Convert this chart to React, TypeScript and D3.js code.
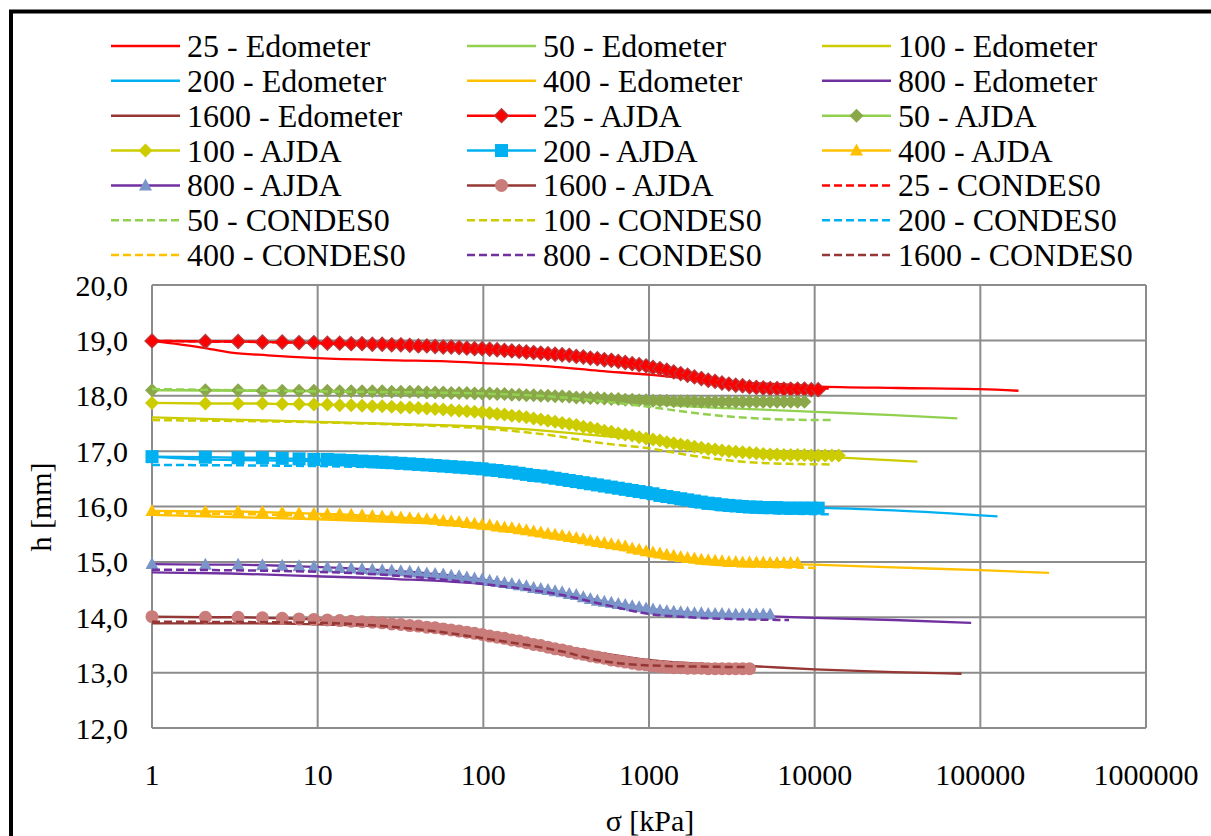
import React from "react";
import { scaleLog, scaleLinear, line, curveMonotoneX } from "d3";

// loading steps of the AJDA runs (shared by all seven series)
const ajdaStress = [
  1, 2.1, 3.31, 4.64, 6.11, 7.72, 9.49, 11.44, 13.58, 15.94,
  18.53, 21.38, 24.52, 27.98, 31.77, 35.95, 40.55, 45.6, 51.16, 57.28,
  64.0, 71.4, 79.54, 88.5, 98.35, 109.2, 121.1, 134.2, 148.6, 164.5,
  181.9, 201.1, 222.3, 245.5, 271.0, 299.1, 330.0, 364.0, 401.5, 442.6,
  487.9, 537.6, 592.4, 652.6, 718.9, 791.8, 872.0, 960.2, 1057, 1164,
  1281, 1410, 1553, 1709, 1881, 2070, 2278, 2506, 2758, 3035,
  3339, 3674, 4043, 4448, 4894, 5384, 5924, 6517, 7170, 7888,
  8677, 9547, 10502, 11553, 12709, 13981,
];

const ajda25 = [
  18.99, 18.98, 18.98, 18.97, 18.97, 18.96, 18.96, 18.95, 18.95, 18.94,
  18.94, 18.93, 18.93, 18.92, 18.92, 18.91, 18.90, 18.90, 18.89, 18.88,
  18.88, 18.87, 18.86, 18.85, 18.85, 18.84, 18.83, 18.82, 18.81, 18.80,
  18.79, 18.78, 18.77, 18.76, 18.75, 18.74, 18.73, 18.71, 18.70, 18.68,
  18.67, 18.65, 18.64, 18.62, 18.60, 18.58, 18.56, 18.54, 18.51, 18.49,
  18.46, 18.43, 18.40, 18.37, 18.34, 18.31, 18.28, 18.26, 18.23, 18.21,
  18.19, 18.18, 18.16, 18.15, 18.14, 18.13, 18.13, 18.12, 18.12, 18.12,
  18.12, 18.11, 18.11,
];
const ajda50 = [
  18.10, 18.10, 18.10, 18.09, 18.09, 18.09, 18.09, 18.09, 18.08, 18.08,
  18.08, 18.08, 18.08, 18.07, 18.07, 18.07, 18.07, 18.06, 18.06, 18.06,
  18.05, 18.05, 18.05, 18.04, 18.04, 18.04, 18.03, 18.03, 18.02, 18.02,
  18.01, 18.01, 18.00, 18.00, 17.99, 17.99, 17.98, 17.97, 17.97, 17.96,
  17.96, 17.95, 17.94, 17.94, 17.93, 17.93, 17.92, 17.92, 17.91, 17.91,
  17.91, 17.90, 17.90, 17.90, 17.90, 17.89, 17.89, 17.89, 17.89, 17.89,
  17.89, 17.89, 17.89, 17.89, 17.89, 17.89, 17.89, 17.89, 17.89, 17.89,
  17.89,
];
const ajda100 = [
  17.87, 17.86, 17.86, 17.86, 17.85, 17.85, 17.84, 17.84, 17.83, 17.83,
  17.82, 17.81, 17.81, 17.80, 17.79, 17.79, 17.78, 17.77, 17.76, 17.75,
  17.74, 17.73, 17.72, 17.71, 17.70, 17.69, 17.67, 17.66, 17.64, 17.63,
  17.61, 17.59, 17.57, 17.55, 17.53, 17.51, 17.49, 17.47, 17.44, 17.42,
  17.40, 17.37, 17.35, 17.32, 17.30, 17.28, 17.25, 17.23, 17.21, 17.19,
  17.16, 17.14, 17.12, 17.10, 17.08, 17.06, 17.04, 17.03, 17.01, 17.00,
  16.99, 16.98, 16.97, 16.96, 16.95, 16.94, 16.94, 16.93, 16.93, 16.93,
  16.93, 16.92, 16.92, 16.92, 16.92, 16.92,
];
const ajda200 = [
  16.90, 16.89, 16.88, 16.88, 16.87, 16.86, 16.85, 16.85, 16.84, 16.83,
  16.82, 16.81, 16.80, 16.79, 16.78, 16.77, 16.76, 16.75, 16.74, 16.73,
  16.72, 16.71, 16.70, 16.69, 16.68, 16.66, 16.65, 16.63, 16.62, 16.60,
  16.58, 16.56, 16.55, 16.53, 16.51, 16.49, 16.47, 16.45, 16.43, 16.41,
  16.39, 16.37, 16.35, 16.33, 16.31, 16.29, 16.27, 16.25, 16.23, 16.20,
  16.18, 16.16, 16.14, 16.12, 16.10, 16.08, 16.06, 16.05, 16.03, 16.02,
  16.01, 16.00, 15.99, 15.99, 15.98, 15.98, 15.98, 15.97, 15.97, 15.97,
  15.97, 15.97, 15.97,
];
const ajda400 = [
  15.92, 15.91, 15.91, 15.90, 15.89, 15.88, 15.87, 15.86, 15.86, 15.85,
  15.84, 15.83, 15.82, 15.81, 15.80, 15.79, 15.78, 15.77, 15.76, 15.74,
  15.73, 15.72, 15.70, 15.69, 15.67, 15.66, 15.64, 15.62, 15.61, 15.59,
  15.57, 15.55, 15.53, 15.51, 15.49, 15.47, 15.45, 15.43, 15.41, 15.38,
  15.36, 15.34, 15.32, 15.30, 15.28, 15.24, 15.22, 15.19, 15.17, 15.15,
  15.13, 15.11, 15.09, 15.07, 15.06, 15.04, 15.03, 15.02, 15.01, 15.00,
  15.00, 14.99, 14.99, 14.99, 14.99, 14.98, 14.98, 14.98, 14.98, 14.98,
];
const ajda800 = [
  14.96, 14.95, 14.95, 14.94, 14.93, 14.92, 14.91, 14.90, 14.89, 14.88,
  14.87, 14.86, 14.85, 14.84, 14.83, 14.82, 14.81, 14.79, 14.78, 14.77,
  14.75, 14.74, 14.72, 14.70, 14.68, 14.66, 14.64, 14.62, 14.60, 14.58,
  14.56, 14.53, 14.51, 14.49, 14.47, 14.45, 14.42, 14.40, 14.36, 14.33,
  14.30, 14.28, 14.26, 14.24, 14.22, 14.20, 14.18, 14.16, 14.14, 14.12,
  14.11, 14.10, 14.09, 14.08, 14.07, 14.07, 14.06, 14.06, 14.06, 14.05,
  14.05, 14.05, 14.05, 14.05, 14.05, 14.05,
];
const ajda1600 = [
  14.01, 14.00, 14.00, 13.99, 13.98, 13.97, 13.96, 13.95, 13.94, 13.93,
  13.92, 13.91, 13.90, 13.88, 13.87, 13.85, 13.84, 13.82, 13.81, 13.79,
  13.77, 13.75, 13.73, 13.71, 13.69, 13.66, 13.64, 13.62, 13.59, 13.57,
  13.54, 13.51, 13.49, 13.46, 13.43, 13.41, 13.38, 13.35, 13.33, 13.30,
  13.28, 13.26, 13.23, 13.21, 13.19, 13.17, 13.15, 13.14, 13.12, 13.11,
  13.10, 13.09, 13.09, 13.08, 13.08, 13.08, 13.07, 13.07, 13.07, 13.07,
  13.07, 13.07, 13.07,
];

// edometer tests: [sigma kPa, h mm]
const edo25 = [[1, 18.99], [2, 18.87], [3, 18.78], [5, 18.73], [10, 18.68], [30, 18.64], [60, 18.62], [100, 18.59], [250, 18.53], [500, 18.45], [1000, 18.38], [1600, 18.32], [2500, 18.27], [4000, 18.23], [6400, 18.21], [10000, 18.17], [32000, 18.14], [100000, 18.12], [170000, 18.09]];
const edo50 = [[1, 18.10], [10, 18.08], [100, 18.04], [300, 17.97], [1000, 17.86], [2000, 17.80], [4000, 17.76], [10000, 17.71], [30000, 17.65], [72600, 17.59]];
const edo100 = [[1, 17.61], [3, 17.57], [10, 17.53], [30, 17.49], [100, 17.44], [250, 17.36], [500, 17.28], [1000, 17.20], [2000, 17.06], [4000, 16.98], [10000, 16.91], [20000, 16.86], [41700, 16.81]];
const edo200 = [[1, 16.90], [2, 16.85], [10, 16.82], [100, 16.67], [300, 16.48], [1000, 16.22], [2000, 16.08], [4000, 16.01], [10000, 15.98], [30000, 15.93], [127000, 15.82]];
const edo400 = [[1, 15.85], [3, 15.81], [10, 15.77], [30, 15.72], [100, 15.65], [300, 15.48], [1000, 15.14], [2000, 15.03], [4000, 14.98], [10000, 14.95], [30000, 14.90], [100000, 14.85], [260000, 14.80]];
const edo800 = [[1, 14.81], [3, 14.79], [10, 14.74], [30, 14.69], [100, 14.60], [300, 14.42], [1000, 14.15], [2000, 14.07], [5000, 14.02], [10000, 13.99], [30000, 13.95], [88000, 13.90]];
const edo1600 = [[1, 13.89], [3, 13.89], [10, 13.87], [30, 13.82], [100, 13.68], [300, 13.47], [500, 13.36], [1000, 13.23], [2000, 13.16], [4000, 13.12], [10000, 13.06], [30000, 13.01], [77000, 12.98]];

// CONDES0 model: [sigma kPa, h mm]
const con25 = [[1, 18.99], [10, 18.95], [100, 18.84], [300, 18.73], [1000, 18.52], [2000, 18.30], [4000, 18.17], [7000, 18.14], [12800, 18.13]];
const con50 = [[1, 18.12], [10, 18.08], [100, 18.04], [300, 17.97], [600, 17.88], [1000, 17.80], [2000, 17.68], [4000, 17.60], [7000, 17.57], [12800, 17.56]];
const con100 = [[1, 17.56], [10, 17.52], [30, 17.48], [100, 17.41], [250, 17.29], [500, 17.15], [1000, 17.05], [2000, 16.90], [4000, 16.80], [7000, 16.77], [12800, 16.76]];
const con200 = [[1, 16.75], [10, 16.73], [100, 16.60], [300, 16.42], [1000, 16.15], [2000, 15.98], [4000, 15.90], [7000, 15.87], [12800, 15.86]];
const con400 = [[1, 15.88], [10, 15.83], [100, 15.66], [300, 15.45], [1000, 15.12], [2000, 14.98], [4000, 14.92], [7000, 14.90], [10700, 14.89]];
const con800 = [[1, 14.86], [10, 14.82], [30, 14.75], [100, 14.60], [300, 14.40], [500, 14.25], [1000, 14.06], [2000, 13.99], [4000, 13.96], [7000, 13.95]];
const con1600 = [[1, 13.92], [10, 13.90], [30, 13.82], [60, 13.72], [100, 13.62], [300, 13.38], [500, 13.22], [1000, 13.13], [2000, 13.11], [3900, 13.10]];

const loads = ["25", "50", "100", "200", "400", "800", "1600"];
const lineColors = ["#FF0000", "#92D050", "#CCCC00", "#00B0F0", "#FFC000", "#7030A0", "#953735"];
const markerFills = ["#FF0000", "#8AA74A", "#CCCC00", "#00B0F0", "#FFC000", "#7A95C9", "#C97C7A"];
const markerShapes = ["diamond", "diamond", "diamond", "square", "triangle", "triangle", "circle"];

const edoSeries = [edo25, edo50, edo100, edo200, edo400, edo800, edo1600];
const ajdaSeries = [ajda25, ajda50, ajda100, ajda200, ajda400, ajda800, ajda1600];
const conSeries = [con25, con50, con100, con200, con400, con800, con1600];

const yTicks = [12, 13, 14, 15, 16, 17, 18, 19, 20];
const xTicks = [1, 10, 100, 1000, 10000, 100000, 1000000];

const FONT =
  '"Liberation Serif", "Times New Roman", Times, Tinos, "Nimbus Roman", FreeSerif, "DejaVu Serif", serif';

function Marker({ shape, cx, cy, fill }) {
  const stroke = fill === "#FF0000" ? "#B8383B" : "none";
  if (shape === "diamond") {
    const r = 7;
    return <path d={`M${cx},${cy - r}L${cx + r},${cy}L${cx},${cy + r}L${cx - r},${cy}Z`} fill={fill} stroke={stroke} strokeWidth={1.3} />;
  }
  if (shape === "square") {
    return <rect x={cx - 6.5} y={cy - 6.5} width={13} height={13} fill={fill} />;
  }
  if (shape === "triangle") {
    return <path d={`M${cx},${cy - 7}L${cx + 6.5},${cy + 5}L${cx - 6.5},${cy + 5}Z`} fill={fill} />;
  }
  return <circle cx={cx} cy={cy} r={6.5} fill={fill} />;
}

export default function App() {
  const x = scaleLog().domain([1, 1000000]).range([152, 1146]);
  const y = scaleLinear().domain([12, 20]).range([728, 285]);

  const smooth = line()
    .x((d) => x(d[0]))
    .y((d) => y(d[1]))
    .curve(curveMonotoneX);
  const straight = line()
    .x((d) => x(d[0]))
    .y((d) => y(d[1]));

  const ajdaPoints = ajdaSeries.map((hs) => hs.map((h, i) => [ajdaStress[i], h]));

  // legend entries in the order excel lists them
  const legend = [
    ...loads.map((l, i) => ({ label: `${l} - Edometer`, kind: "edo", i })),
    ...loads.map((l, i) => ({ label: `${l} - AJDA`, kind: "ajda", i })),
    ...loads.map((l, i) => ({ label: `${l} - CONDES0`, kind: "con", i })),
  ];
  const legendCols = [111, 467, 822];

  return (
    <svg
      width={1211}
      height={836}
      style={{ position: "absolute", left: 0, top: 0, background: "#fff", fontFamily: FONT }}
    >
      <rect x={0} y={0} width={1211} height={836} fill="#fff" />

      {/* Grid */}
      {yTicks.map((t) => (
        <line key={`gy${t}`} x1={x(1)} x2={x(1000000)} y1={y(t)} y2={y(t)} stroke="#8C8C8C" strokeWidth={2} />
      ))}
      {xTicks.map((t) => (
        <line key={`gx${t}`} x1={x(t)} x2={x(t)} y1={y(20)} y2={y(12)} stroke="#8C8C8C" strokeWidth={2} />
      ))}

      {/* Edometer */}
      {edoSeries.map((s, i) => (
        <path key={`e${i}`} d={smooth(s)} fill="none" stroke={lineColors[i]} strokeWidth={2.3} />
      ))}

      {/* AJDA */}
      {ajdaPoints.map((pts, i) => (
        <g key={`a${i}`}>
          <path d={straight(pts)} fill="none" stroke={lineColors[i]} strokeWidth={2.3} />
          {pts.map((p, j) => (
            <Marker key={j} shape={markerShapes[i]} cx={x(p[0])} cy={y(p[1])} fill={markerFills[i]} />
          ))}
        </g>
      ))}

      {/* CONDES0 */}
      {conSeries.map((s, i) => (
        <path key={`c${i}`} d={smooth(s)} fill="none" stroke={lineColors[i]} strokeWidth={2.5} strokeDasharray="8,4" />
      ))}

      {/* Y tick labels */}
      {yTicks.map((t) => (
        <text key={`ty${t}`} x={128} y={y(t)} textAnchor="end" dominantBaseline="central" fontSize={30}>
          {t.toFixed(1).replace(".", ",")}
        </text>
      ))}
      {/* X tick labels */}
      {xTicks.map((t) => (
        <text key={`tx${t}`} x={x(t)} y={774} textAnchor="middle" dominantBaseline="central" fontSize={30}>
          {String(t)}
        </text>
      ))}

      <text x={650} y={820} textAnchor="middle" dominantBaseline="central" fontSize={30}>
        σ [kPa]
      </text>
      <text transform="translate(40,507) rotate(-90)" textAnchor="middle" dominantBaseline="central" fontSize={30}>
        h [mm]
      </text>

      {/* Legend */}
      {legend.map((e, k) => {
        const lx = legendCols[k % 3];
        const ly = 46 + Math.floor(k / 3) * 34.85;
        return (
          <g key={`l${k}`}>
            <line
              x1={lx}
              x2={lx + 69}
              y1={ly}
              y2={ly}
              stroke={lineColors[e.i]}
              strokeWidth={2.5}
              strokeDasharray={e.kind === "con" ? "8,4" : undefined}
            />
            {e.kind === "ajda" && <Marker shape={markerShapes[e.i]} cx={lx + 34.5} cy={ly} fill={markerFills[e.i]} />}
            <text x={lx + 76} y={ly} dominantBaseline="central" fontSize={32}>
              {e.label}
            </text>
          </g>
        );
      })}

      {/* outer frame */}
      <rect x={11} y={11.5} width={1240} height={880} fill="none" stroke="#000" strokeWidth={4} />
    </svg>
  );
}
